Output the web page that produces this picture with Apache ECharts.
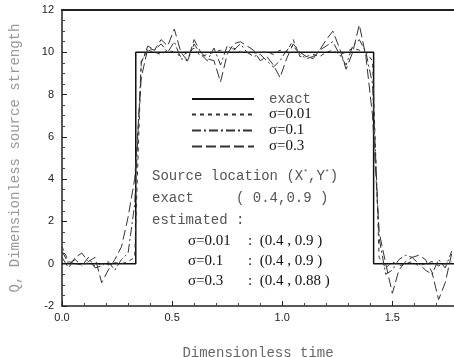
<!DOCTYPE html>
<html>
<head>
<meta charset="utf-8">
<script src="https://cdn.jsdelivr.net/npm/echarts@6/dist/echarts.min.js"></script>
<style>
  html, body { margin: 0; padding: 0; background: #fff; }
  #chart { width: 454px; height: 357px; }
</style>
</head>
<body>
<div id="chart"></div>
<script>
// time grid of the estimated curves (step 0.03)
const timeGrid = [0.00, 0.03, 0.06, 0.09, 0.12, 0.15, 0.18, 0.21, 0.24, 0.27,
  0.30, 0.33, 0.36, 0.39, 0.42, 0.45, 0.48, 0.51, 0.54, 0.57,
  0.60, 0.63, 0.66, 0.69, 0.72, 0.75, 0.78, 0.81, 0.84, 0.87,
  0.90, 0.93, 0.96, 0.99, 1.02, 1.05, 1.08, 1.11, 1.14, 1.17,
  1.20, 1.23, 1.26, 1.29, 1.32, 1.35, 1.38, 1.41, 1.44, 1.47,
  1.50, 1.53, 1.56, 1.59, 1.62, 1.65, 1.68, 1.71, 1.74, 1.77]

// exact source strength (step function)
const exactTime = [0, 0.335, 0.335, 1.415, 1.415, 1.78]
const exactValue = [0, 0, 10, 10, 0, 0]

const sigma001 = [0.8, 0.1, 0.0, -0.05, 0.05, -0.1, 0.0, -0.05, 0.05, 0.0,
  0.1, 0.3, 9.6, 10.1, 10.0, 9.9, 10.1, 10.0, 9.8, 10.0,
  10.2, 9.8, 9.9, 10.0, 10.1, 10.0, 10.2, 10.0, 10.0, 9.95,
  10.0, 10.0, 9.9, 10.1, 10.0, 10.6, 9.8, 9.8, 9.9, 9.8,
  10.0, 10.1, 9.9, 10.0, 10.2, 10.1, 10.0, 9.6, 0.3, -0.2,
  0.1, -0.1, 0.0, 0.1, -0.1, 0.0, 0.1, -0.1, 0.0, 0.1]

const sigma01 = [0.6, 0.0, 0.2, -0.1, 0.3, -0.2, -0.1, 0.1, -0.3, 0.2,
  0.5, 2.8, 9.5, 10.3, 10.1, 10.4, 10.0, 10.5, 9.7, 9.6,
  10.4, 9.9, 9.6, 10.2, 9.4, 10.3, 10.1, 10.4, 10.0, 9.8,
  9.9, 9.6, 9.3, 9.6, 10.1, 10.3, 9.9, 9.7, 9.8, 10.1,
  10.3, 10.5, 9.9, 9.4, 10.3, 10.6, 10.0, 8.5, 1.2, -0.5,
  -0.3, 0.2, 0.4, 0.3, 0.0, -0.3, -0.5, 0.2, -0.2, 0.6]

const sigma03 = [0.3, -0.2, 0.3, 0.5, 0.1, 0.3, -0.9, -0.3, 0.2, 0.8,
  2.2, 4.0, 8.8, 10.2, 10.1, 10.6, 10.3, 11.1, 10.0, 9.6,
  10.6, 10.0, 9.7, 9.6, 8.6, 9.9, 10.4, 10.5, 10.3, 10.1,
  9.6, 9.8, 9.4, 8.8, 9.7, 10.4, 10.0, 9.8, 9.7, 10.1,
  10.6, 11.0, 10.2, 9.2, 10.0, 11.3, 9.8, 7.0, 1.5, 0.0,
  -1.4, -0.3, 0.1, 0.3, 0.4, 0.2, -0.4, -1.7, -0.9, 0.5]

const xTicks = [0, 0.5, 1.0, 1.5]
const yTicks = [-2, 0, 2, 4, 6, 8, 10, 12]

const pairs = (xs, ys) => xs.map((x, i) => [x, ys[i]])

const mono = '"Liberation Mono", "DejaVu Sans Mono", monospace'
const serif = '"Liberation Serif", "DejaVu Serif", serif'
const sans = '"Liberation Sans", Arial, sans-serif'

const chart = echarts.init(document.getElementById('chart'))

const option = {
  backgroundColor: '#ffffff',
  animation: false,
  grid: {
    left: 62,
    right: 0,
    top: 10,
    bottom: 51,
    containLabel: false,
    outerBoundsMode: 'none'
  },
  xAxis: [
    {
      type: 'value',
      min: 0,
      max: 1.78,
      interval: 0.5,
      name: 'Dimensionless time',
      nameLocation: 'middle',
      nameGap: 40,
      nameTextStyle: { fontFamily: mono, fontSize: 14, color: '#666' },
      axisLine: { show: true, onZero: false, lineStyle: { color: '#222', width: 1.5 } },
      axisTick: { show: true, inside: true, length: 5, lineStyle: { color: '#222' } },
      minorTick: { show: true, splitNumber: 5, length: 3, lineStyle: { color: '#444' } },
      splitLine: { show: false },
      axisLabel: {
        color: '#222',
        fontFamily: sans,
        fontSize: 11,
        margin: 6,
        showMaxLabel: false,
        formatter: v => (xTicks.includes(v) ? v.toFixed(1) : '')
      }
    },
    {
      type: 'value',
      position: 'top',
      min: 0,
      max: 1.78,
      axisLine: { show: true, onZero: false, lineStyle: { color: '#222', width: 2 } },
      axisTick: { show: false },
      axisLabel: { show: false },
      splitLine: { show: false }
    }
  ],
  yAxis: {
    type: 'value',
    min: -2,
    max: 12,
    interval: 2,
    name: 'Q, Dimensionless source strength',
    nameLocation: 'middle',
    nameGap: 40,
    nameTextStyle: { fontFamily: mono, fontSize: 14, color: '#999' },
    axisLine: { show: true, onZero: false, lineStyle: { color: '#222', width: 1.5 } },
    axisTick: { show: true, inside: true, length: 5, lineStyle: { color: '#222' } },
    minorTick: { show: true, splitNumber: 4, length: 3, lineStyle: { color: '#444' } },
    splitLine: { show: false },
    axisLabel: {
      color: '#222',
      fontFamily: sans,
      fontSize: 11,
      margin: 8,
      formatter: v => (yTicks.includes(v) ? String(v) : '')
    }
  },
  legend: {
    show: true,
    orient: 'vertical',
    left: 186,
    top: 87,
    itemWidth: 62,
    itemHeight: 12,
    itemGap: 1,
    itemStyle: { opacity: 0 },
    data: [
      { name: 'exact', textStyle: { fontFamily: mono, fontSize: 14, color: '#555', padding: [0, 0, 0, 10] } },
      { name: 'σ=0.01', textStyle: { fontFamily: serif, fontSize: 15, color: '#111', padding: [0, 0, 0, 10] } },
      { name: 'σ=0.1', textStyle: { fontFamily: serif, fontSize: 15, color: '#111', padding: [0, 0, 0, 10] } },
      { name: 'σ=0.3', textStyle: { fontFamily: serif, fontSize: 15, color: '#111', padding: [0, 0, 0, 10] } }
    ]
  },
  series: [
    {
      name: 'exact',
      type: 'line',
      symbol: 'none',
      lineStyle: { color: '#111', width: 1.5, type: 'solid' },
      itemStyle: { color: '#111' },
      data: pairs(exactTime, exactValue)
    },
    {
      name: 'σ=0.01',
      type: 'line',
      symbol: 'none',
      lineStyle: { color: '#333', width: 1, type: [4, 4] },
      itemStyle: { color: '#333' },
      data: pairs(timeGrid, sigma001)
    },
    {
      name: 'σ=0.1',
      type: 'line',
      symbol: 'none',
      lineStyle: { color: '#333', width: 1, type: [9, 3, 2, 3] },
      itemStyle: { color: '#333' },
      data: pairs(timeGrid, sigma01)
    },
    {
      name: 'σ=0.3',
      type: 'line',
      symbol: 'none',
      lineStyle: { color: '#333', width: 1, type: [10, 4] },
      itemStyle: { color: '#333' },
      data: pairs(timeGrid, sigma03)
    }
  ],
  graphic: [
    {
      type: 'text',
      left: 152,
      top: 168,
      style: {
        text: 'Source location ({a|X}{s|*},{a|Y}{s|*})',
        fontFamily: mono,
        fontSize: 14,
        fill: '#555',
        rich: {
          a: { fontFamily: mono, fontSize: 14, fill: '#555' },
          s: { fontFamily: mono, fontSize: 8, fill: '#555', verticalAlign: 'top', padding: [0, 0, 8, 0] }
        }
      }
    },
    {
      type: 'text',
      left: 152,
      top: 191,
      style: { text: 'exact     ( 0.4,0.9 )', fontFamily: mono, fontSize: 14, fill: '#555' }
    },
    {
      type: 'text',
      left: 152,
      top: 213,
      style: { text: 'estimated :', fontFamily: mono, fontSize: 14, fill: '#555' }
    },
    {
      type: 'text',
      left: 188,
      top: 234,
      style: { text: 'σ=0.01', fontFamily: serif, fontSize: 15, fill: '#111' }
    },
    {
      type: 'text',
      left: 188,
      top: 254,
      style: { text: 'σ=0.1', fontFamily: serif, fontSize: 15, fill: '#111' }
    },
    {
      type: 'text',
      left: 188,
      top: 274,
      style: { text: 'σ=0.3', fontFamily: serif, fontSize: 15, fill: '#111' }
    },
    {
      type: 'text',
      left: 248,
      top: 234,
      style: { text: ':  (0.4 , 0.9 )', fontFamily: serif, fontSize: 15, fill: '#111' }
    },
    {
      type: 'text',
      left: 248,
      top: 254,
      style: { text: ':  (0.4 , 0.9 )', fontFamily: serif, fontSize: 15, fill: '#111' }
    },
    {
      type: 'text',
      left: 248,
      top: 274,
      style: { text: ':  (0.4 , 0.88 )', fontFamily: serif, fontSize: 15, fill: '#111' }
    }
  ]
}

chart && chart.setOption(option)
</script>
</body>
</html>
